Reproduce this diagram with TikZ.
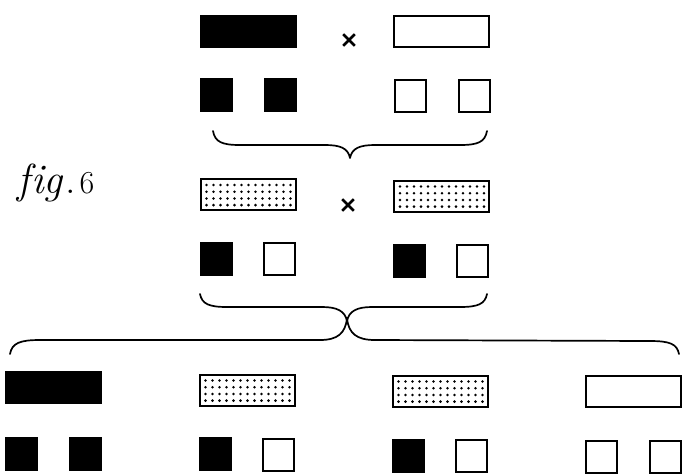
\documentclass[tikz,border=0pt]{standalone}
\usetikzlibrary{shapes.misc}
\begin{document}
\begin{tikzpicture}[x=1pt,y=-1pt,
  bar/.style={draw, line width=2pt, minimum width=95pt, minimum height=31pt, inner sep=0pt},
  blackbar/.style={bar, fill=black},
  whitebar/.style={bar, fill=white},
  dotbar/.style={bar, path picture={
      \foreach \i in {0,...,12}{\foreach \j in {0,...,3}{
        \fill ([xshift={6pt+\i*7pt}, yshift={-6pt-\j*6.7pt}]path picture bounding box.north west) circle (1.4pt);}}}},
  sq/.style={draw, line width=2pt, minimum width=31pt, minimum height=32pt, inner sep=0pt},
  blacksq/.style={sq, fill=black},
  whitesq/.style={sq, fill=white},
  cross/.style={cross out, draw, line width=2.6pt, minimum size=9pt, inner sep=0pt},
  bracepath/.style={line width=1.7pt, line cap=round, line join=round}
]
\useasboundingbox (0,0) rectangle (690,475);

% row 1
\node[blackbar] (p1) at (248.5,31) {};
\node[cross] (x1) at (349,40) {};
\node[whitebar] (p2) at (441.5,31) {};
\node[blacksq] (p1a) at (216,95) {};
\node[blacksq] (p1b) at (280,95) {};
\node[whitesq] (p2a) at (410,96) {};
\node[whitesq] (p2b) at (474,96) {};

% brace 1
\draw[bracepath] (213,131) .. controls (215,142) and (222,145) .. (240,145) -- (325,145)
  .. controls (340,145) and (348,148) .. (350,158)
  .. controls (352,148) and (360,145) .. (375,145) -- (460,145)
  .. controls (478,145) and (485,142) .. (487,131);

% fig label
\node[font=\fontsize{42}{42}\selectfont] (fig) at (56,183) {\textit{f\kern1pt{}ig}\kern1pt.\kern4pt{\fontsize{32}{32}\selectfont 6}};

% row 2
\node[dotbar] (f1) at (248,194.5) {};
\node[cross] (x2) at (348,205) {};
\node[dotbar] (f2) at (441.5,196) {};
\node[blacksq] (f1a) at (216,259) {};
\node[whitesq] (f1b) at (279,259) {};
\node[blacksq] (f2a) at (409,261) {};
\node[whitesq] (f2b) at (472.5,261) {};

% brace 2
\draw[bracepath] (200,294) .. controls (202,304) and (209,307) .. (227,307) -- (322,307)
  .. controls (337,307) and (345,311) .. (347,321)
  .. controls (349,311) and (357,307) .. (372,307) -- (460,307)
  .. controls (478,307) and (485,304) .. (487,294);

% big brace
\draw[bracepath] (10,354) .. controls (12,343) and (20,340) .. (40,340) -- (320,340)
  .. controls (338,340) and (345,333) .. (347,319)
  .. controls (349,333) and (356,340) .. (375,340) -- (650,341)
  .. controls (670,341) and (677,344) .. (679,354);

% row 3
\node[blackbar] (g1) at (53,387.5) {};
\node[dotbar] (g2) at (247,390) {};
\node[dotbar] (g3) at (440,391) {};
\node[whitebar] (g4) at (633.5,391) {};
\node[blacksq] (g1a) at (21,454) {};
\node[blacksq] (g1b) at (85,454) {};
\node[blacksq] (g2a) at (215,454) {};
\node[whitesq] (g2b) at (278,455) {};
\node[blacksq] (g3a) at (408,456) {};
\node[whitesq] (g3b) at (471.5,456) {};
\node[whitesq] (g4a) at (601.5,457) {};
\node[whitesq] (g4b) at (665.5,457) {};
\end{tikzpicture}
\end{document}
